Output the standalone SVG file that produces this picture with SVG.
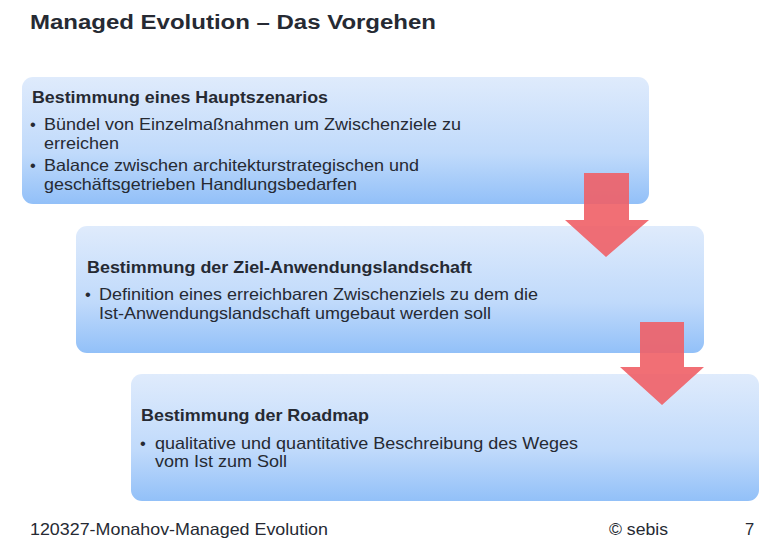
<svg xmlns="http://www.w3.org/2000/svg" width="780" height="540" viewBox="0 0 780 540">
<defs>
<linearGradient id="g" x1="0" y1="0" x2="0" y2="1">
<stop offset="0" stop-color="#dfebfc"/>
<stop offset="0.6" stop-color="#c0dafb"/>
<stop offset="1" stop-color="#92c0f8"/>
</linearGradient>
<style>
.box{fill:url(#g);}
.t{font-family:"Liberation Sans",Arial,sans-serif;fill:#262a33;}
.h{font-size:16.5px;font-weight:bold;}
.b{font-size:16.5px;}
.arr{fill:#ef5f66;fill-opacity:0.9;}
</style>
</defs>
<rect width="780" height="540" fill="#ffffff"/>
<text class="t" x="30" y="29" font-size="20" font-weight="bold" fill="#333" textLength="406" lengthAdjust="spacingAndGlyphs">Managed Evolution – Das Vorgehen</text>
<g id="node1">
<rect class="box" x="22" y="77" width="627" height="127" rx="11"/>
<text class="t h" x="32" y="103" textLength="296" lengthAdjust="spacingAndGlyphs">Bestimmung eines Hauptszenarios</text>
<text class="t b" x="30" y="130">•</text>
<text class="t b" x="44" y="130" textLength="417" lengthAdjust="spacingAndGlyphs">Bündel von Einzelmaßnahmen um Zwischenziele zu</text>
<text class="t b" x="44" y="149" textLength="75" lengthAdjust="spacingAndGlyphs">erreichen</text>
<text class="t b" x="30" y="171">•</text>
<text class="t b" x="44" y="171" textLength="375" lengthAdjust="spacingAndGlyphs">Balance zwischen architekturstrategischen und</text>
<text class="t b" x="44" y="190" textLength="313" lengthAdjust="spacingAndGlyphs">geschäftsgetrieben Handlungsbedarfen</text>
</g>
<g id="node2">
<rect class="box" x="76" y="226" width="628" height="127" rx="11"/>
<text class="t h" x="87" y="273" textLength="385" lengthAdjust="spacingAndGlyphs">Bestimmung der Ziel-Anwendungslandschaft</text>
<text class="t b" x="85" y="300">•</text>
<text class="t b" x="99" y="300" textLength="439" lengthAdjust="spacingAndGlyphs">Definition eines erreichbaren Zwischenziels zu dem die</text>
<text class="t b" x="99" y="319" textLength="392" lengthAdjust="spacingAndGlyphs">Ist-Anwendungslandschaft umgebaut werden soll</text>
</g>
<g id="node3">
<rect class="box" x="131" y="374" width="628" height="127" rx="11"/>
<text class="t h" x="141" y="421" textLength="228" lengthAdjust="spacingAndGlyphs">Bestimmung der Roadmap</text>
<text class="t b" x="140" y="449">•</text>
<text class="t b" x="155" y="449" textLength="423" lengthAdjust="spacingAndGlyphs">qualitative und quantitative Beschreibung des Weges</text>
<text class="t b" x="155" y="467" textLength="132" lengthAdjust="spacingAndGlyphs">vom Ist zum Soll</text>
</g>
<g id="connectors">
<polygon class="arr" points="584,173 629,173 629,220 649,220 606,257 565,220 584,220"/>
<polygon class="arr" points="640,322 684,322 684,367 704,367 662,405 620,367 640,367"/>
</g>
<text class="t b" x="30" y="535" textLength="298" lengthAdjust="spacingAndGlyphs">120327-Monahov-Managed Evolution</text>
<text class="t b" x="609" y="535" textLength="59" lengthAdjust="spacingAndGlyphs">© sebis</text>
<text class="t b" x="745" y="535">7</text>
</svg>
